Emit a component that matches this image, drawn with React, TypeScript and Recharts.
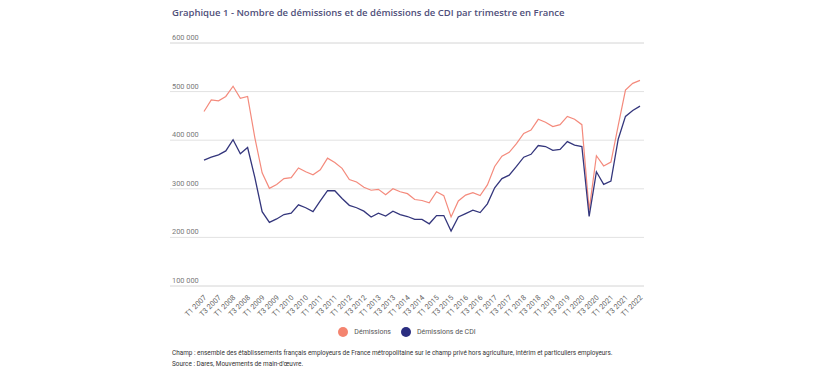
import React from "react";
import { LineChart, Line, XAxis, YAxis, ReferenceLine, CartesianGrid } from "recharts";

const quarters = [
  "T1 2007","T2 2007","T3 2007","T4 2007",
  "T1 2008","T2 2008","T3 2008","T4 2008",
  "T1 2009","T2 2009","T3 2009","T4 2009",
  "T1 2010","T2 2010","T3 2010","T4 2010",
  "T1 2011","T2 2011","T3 2011","T4 2011",
  "T1 2012","T2 2012","T3 2012","T4 2012",
  "T1 2013","T2 2013","T3 2013","T4 2013",
  "T1 2014","T2 2014","T3 2014","T4 2014",
  "T1 2015","T2 2015","T3 2015","T4 2015",
  "T1 2016","T2 2016","T3 2016","T4 2016",
  "T1 2017","T2 2017","T3 2017","T4 2017",
  "T1 2018","T2 2018","T3 2018","T4 2018",
  "T1 2019","T2 2019","T3 2019","T4 2019",
  "T1 2020","T2 2020","T3 2020","T4 2020",
  "T1 2021","T2 2021","T3 2021","T4 2021",
  "T1 2022",
];

const demissions = [
  459000, 483000, 481000, 490000,
  511000, 486000, 490000, 405000,
  333000, 301000, 309000, 321000,
  323000, 343000, 335000, 329000,
  339000, 363000, 354000, 342000,
  319000, 314000, 303000, 297000,
  299000, 288000, 300000, 294000,
  290000, 278000, 276000, 271000,
  294000, 286000, 242000, 275000,
  287000, 292000, 286000, 308000,
  346000, 367000, 375000, 393000,
  414000, 421000, 443000, 437000,
  428000, 432000, 449000, 443000,
  432000, 256000, 368000, 347000,
  355000, 430000, 503000, 517000,
  523000,
];

const demissionsCDI = [
  359000, 365000, 370000, 378000,
  401000, 372000, 385000, 323000,
  253000, 231000, 238000, 247000,
  250000, 267000, 261000, 253000,
  275000, 296000, 296000, 280000,
  266000, 261000, 254000, 242000,
  250000, 244000, 254000, 247000,
  243000, 237000, 237000, 228000,
  245000, 245000, 213000, 242000,
  249000, 256000, 251000, 269000,
  302000, 321000, 328000, 346000,
  365000, 371000, 389000, 387000,
  379000, 381000, 397000, 390000,
  387000, 243000, 335000, 309000,
  316000, 402000, 449000, 461000,
  470000,
];

const yTicks = [100000, 200000, 300000, 400000, 500000, 600000];

const seriesNames = ["Démissions", "Démissions de CDI"];
const seriesColors = ["#f48a7c", "#34367c"];
const legendColors = ["#f4846f", "#2a2d80"];

const title =
  "Graphique 1 - Nombre de démissions et de démissions de CDI par trimestre en France";
const noteChamp =
  "Champ : ensemble des établissements français employeurs de France métropolitaine sur le champ privé hors agriculture, intérim et particuliers employeurs.";
const noteSource = "Source : Dares, Mouvements de main-d'œuvre.";

const data = quarters.map((q, i) => ({
  q,
  dem: demissions[i],
  cdi: demissionsCDI[i],
}));

const fmt = (v: number) =>
  String(v).replace(/\B(?=(\d{3})+(?!\d))/g, " ");

const GridLabel = (props: any) => {
  const { viewBox, value } = props;
  const y = viewBox ? viewBox.y : 0;
  return (
    <text
      x={172}
      y={y - 3}
      fontSize={7.4}
      fill="#7a7a7a"
      fontFamily="Roboto, sans-serif"
      textAnchor="start"
    >
      {value}
    </text>
  );
};

const XTick = (props: any) => {
  const { x, y, payload } = props;
  const tx = x + 3;
  const ty = y + 4;
  return (
    <text
      x={tx}
      y={ty}
      fontSize={7.4}
      fill="#666"
      fontFamily="Roboto, sans-serif"
      textAnchor="end"
      transform={`rotate(-45, ${tx}, ${ty})`}
    >
      {payload.value}
    </text>
  );
};

export default function App() {
  return (
    <div
      style={{
        position: "absolute",
        left: 0,
        top: 0,
        width: 820,
        height: 375,
        background: "#fff",
        fontFamily: "Roboto, sans-serif",
      }}
    >
      <div
        style={{
          position: "absolute",
          left: 172,
          top: 6,
          fontSize: 9.5,
          fontWeight: 600,
          color: "#4f4f7a",
          fontFamily: "'Open Sans', sans-serif",
          whiteSpace: "nowrap",
        }}
      >
        {title}
      </div>
      <LineChart
        width={820}
        height={375}
        data={data}
        margin={{ top: 43, right: 176, bottom: 59, left: 169 }}
      >
        <CartesianGrid vertical={false} stroke="#e2e2e2" />
        <XAxis
          dataKey="q"
          interval={1}
          height={30}
          tickLine={false}
          axisLine={false}
          padding={{ left: 34, right: 4 }}
          tick={<XTick />}
        />
        <YAxis
          width={1}
          domain={[100000, 600000]}
          ticks={yTicks}
          tickLine={false}
          axisLine={false}
          tick={false}
        />
        {yTicks.map((t) => (
          <ReferenceLine
            key={t}
            y={t}
            stroke="#e2e2e2"
            strokeOpacity={1}
            strokeWidth={1}
            ifOverflow="visible"
            label={<GridLabel value={fmt(t)} />}
          />
        ))}
        <Line
          type="linear"
          dataKey="dem"
          stroke={seriesColors[0]}
          strokeWidth={1.2}
          dot={false}
          isAnimationActive={false}
        />
        <Line
          type="linear"
          dataKey="cdi"
          stroke={seriesColors[1]}
          strokeWidth={1.3}
          dot={false}
          isAnimationActive={false}
        />
      </LineChart>
      <div
        style={{
          position: "absolute",
          left: 0,
          top: 327,
          width: 820,
          display: "flex",
          justifyContent: "center",
          alignItems: "center",
          fontSize: 7,
          color: "#555",
          paddingLeft: 2,
        }}
      >
        {seriesNames.map((n, i) => (
          <div
            key={n}
            style={{ display: "flex", alignItems: "center", marginRight: 10 }}
          >
            <span
              style={{
                display: "inline-block",
                width: 10,
                height: 10,
                borderRadius: 5,
                background: legendColors[i],
                marginRight: 6,
              }}
            />
            <span>{n}</span>
          </div>
        ))}
      </div>
      <div
        style={{
          position: "absolute",
          left: 172,
          top: 348,
          fontSize: 6.4,
          lineHeight: "11px",
          color: "#333",
          whiteSpace: "nowrap",
        }}
      >
        <div>{noteChamp}</div>
        <div>{noteSource}</div>
      </div>
    </div>
  );
}
